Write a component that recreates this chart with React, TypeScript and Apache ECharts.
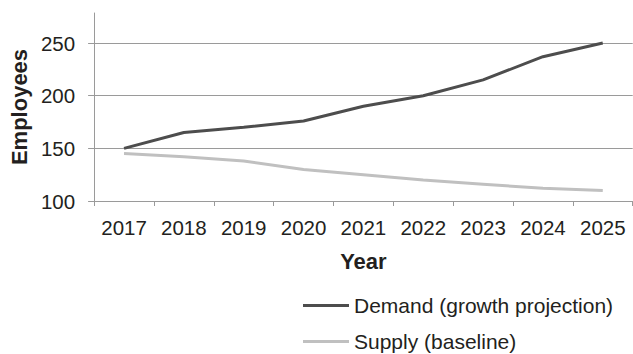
import React, { useEffect, useRef } from "react";
import * as echarts from "echarts";

const years = ["2017", "2018", "2019", "2020", "2021", "2022", "2023", "2024", "2025"];
const demand = [150, 165, 170, 176, 190, 200, 215, 237, 250];
const supply = [145, 142, 138, 130, 125, 120, 116, 112, 110];

const FONT = "'Liberation Sans', Arial, sans-serif";
const TEXT = "#231f20";
const AXIS = "#9a9a9a";
const DEMAND_NAME = "Demand (growth projection)";
const SUPPLY_NAME = "Supply (baseline)";

export default function App() {
  const ref = useRef<HTMLDivElement>(null);
  useEffect(() => {
    if (!ref.current) return;
    const chart = echarts.init(ref.current, null, { renderer: "svg" });
    const legendCommon = {
      orient: "vertical",
      left: 303,
      padding: 0,
      icon: "rect",
      itemWidth: 46,
      itemHeight: 3,
      itemGap: 4,
      textStyle: { fontSize: 21, color: TEXT, fontFamily: FONT },
    };
    chart.setOption({
      animation: false,
      textStyle: { fontFamily: FONT, color: TEXT },
      grid: { left: 92.5, right: 0.3, top: 13, bottom: 153, containLabel: false },
      xAxis: {
        type: "category",
        data: years,
        boundaryGap: true,
        name: "Year",
        nameLocation: "middle",
        nameGap: 49,
        nameTextStyle: { fontSize: 22, fontWeight: "bold", color: TEXT, fontFamily: FONT },
        axisLine: { show: true, lineStyle: { color: AXIS, width: 1 } },
        axisTick: { show: true, length: 5, alignWithLabel: false, lineStyle: { color: AXIS } },
        axisLabel: { fontSize: 20.5, color: TEXT, margin: 16, fontFamily: FONT },
        splitLine: { show: false },
      },
      yAxis: {
        type: "value",
        min: 100,
        max: 278.5,
        interval: 50,
        name: "Employees",
        nameLocation: "middle",
        nameRotate: 90,
        nameGap: 64,
        nameTextStyle: { fontSize: 22, fontWeight: "bold", color: TEXT, fontFamily: FONT },
        axisLine: { show: true, lineStyle: { color: AXIS, width: 1 } },
        axisTick: { show: true, length: 6, inside: false, lineStyle: { color: AXIS } },
        axisLabel: { fontSize: 20.5, color: TEXT, margin: 19, fontFamily: FONT, showMaxLabel: false },
        splitLine: { show: true, showMaxLine: false, lineStyle: { color: AXIS, width: 1 } },
      },
      legend: [
        { ...legendCommon, top: 295, data: [{ name: DEMAND_NAME, itemStyle: { color: "#4d4d4d" } }] },
        { ...legendCommon, top: 331, data: [{ name: SUPPLY_NAME, itemStyle: { color: "#c0c0c0" } }] },
      ],
      series: [
        {
          name: DEMAND_NAME,
          type: "line",
          data: demand,
          symbol: "none",
          lineStyle: { color: "#4d4d4d", width: 3 },
          itemStyle: { color: "#4d4d4d" },
        },
        {
          name: SUPPLY_NAME,
          type: "line",
          data: supply,
          symbol: "none",
          lineStyle: { color: "#c0c0c0", width: 3 },
          itemStyle: { color: "#c0c0c0" },
        },
      ],
    });
    return () => chart.dispose();
  }, []);
  return <div ref={ref} style={{ width: 633, height: 354, position: "absolute", left: 0, top: 0 }} />;
}
